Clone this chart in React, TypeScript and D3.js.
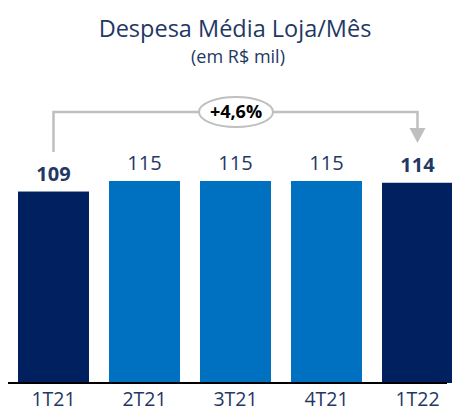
import React from "react";
import * as d3 from "d3";

const categories = ["1T21", "2T21", "3T21", "4T21", "1T22"];
const values = [109, 115, 115, 115, 114];
const highlight = [true, false, false, false, true];
const title = "Despesa Média Loja/Mês";
const subtitle = "(em R$ mil)";
const growthLabel = "+4,6%";

const W = 452;
const H = 411;

export default function App() {
  const x = d3.scaleBand<string>().domain(categories).range([8, 463]).paddingInner(0.22).paddingOuter(0.11);
  const y = d3.scaleLinear().domain([0, 115]).range([383, 181]);
  const font = "'Open Sans', sans-serif";
  const navy = "#002060";
  const textNavy = "#1f3864";
  const blue = "#0070c0";
  const gray = "#bfbfbf";

  const x0 = x(categories[0])! + x.bandwidth() / 2;
  const x1 = x(categories[4])! + x.bandwidth() / 2;
  const bracketY = 112;
  const midX = 236;

  return (
    <div style={{ position: "fixed", left: 0, top: 0 }}>
      <svg width={W} height={H} style={{ display: "block", background: "#fff" }}>
        <text x={235} y={37} textAnchor="middle" fontFamily={font} fontSize={23.5} fill={textNavy}>{title}</text>
        <text x={238} y={63} textAnchor="middle" fontFamily={font} fontSize={18} fill={textNavy}>{subtitle}</text>

        {categories.map((c, i) => (
          <g key={c}>
            <rect x={x(c)} y={y(values[i])} width={x.bandwidth()} height={y(0) - y(values[i])} fill={highlight[i] ? navy : blue} />
            <text x={x(c)! + x.bandwidth() / 2} y={y(values[i]) - 11} textAnchor="middle" fontFamily={font}
              fontSize={20} fontWeight={highlight[i] ? 700 : 400} fill={textNavy}>{values[i]}</text>
            <text x={x(c)! + x.bandwidth() / 2} y={406} textAnchor="middle" fontFamily={font} fontSize={19.5} fill={textNavy}>{c}</text>
          </g>
        ))}

        <line x1={8} x2={447} y1={y(0)} y2={y(0)} stroke="#000" strokeWidth={2} />

        <path d={`M${x0},152 V${bracketY} H${x1} V129`} fill="none" stroke={gray} strokeWidth={2.5} />
        <path d={`M${x1 - 8},128 L${x1 + 8},128 L${x1},143 Z`} fill={gray} />
        <ellipse cx={midX} cy={bracketY} rx={37} ry={15} fill="#fff" stroke={gray} strokeWidth={2} />
        <text x={midX} y={bracketY + 6} textAnchor="middle" fontFamily={font} fontSize={18} fontWeight={700} fill="#000">{growthLabel}</text>
      </svg>
    </div>
  );
}
